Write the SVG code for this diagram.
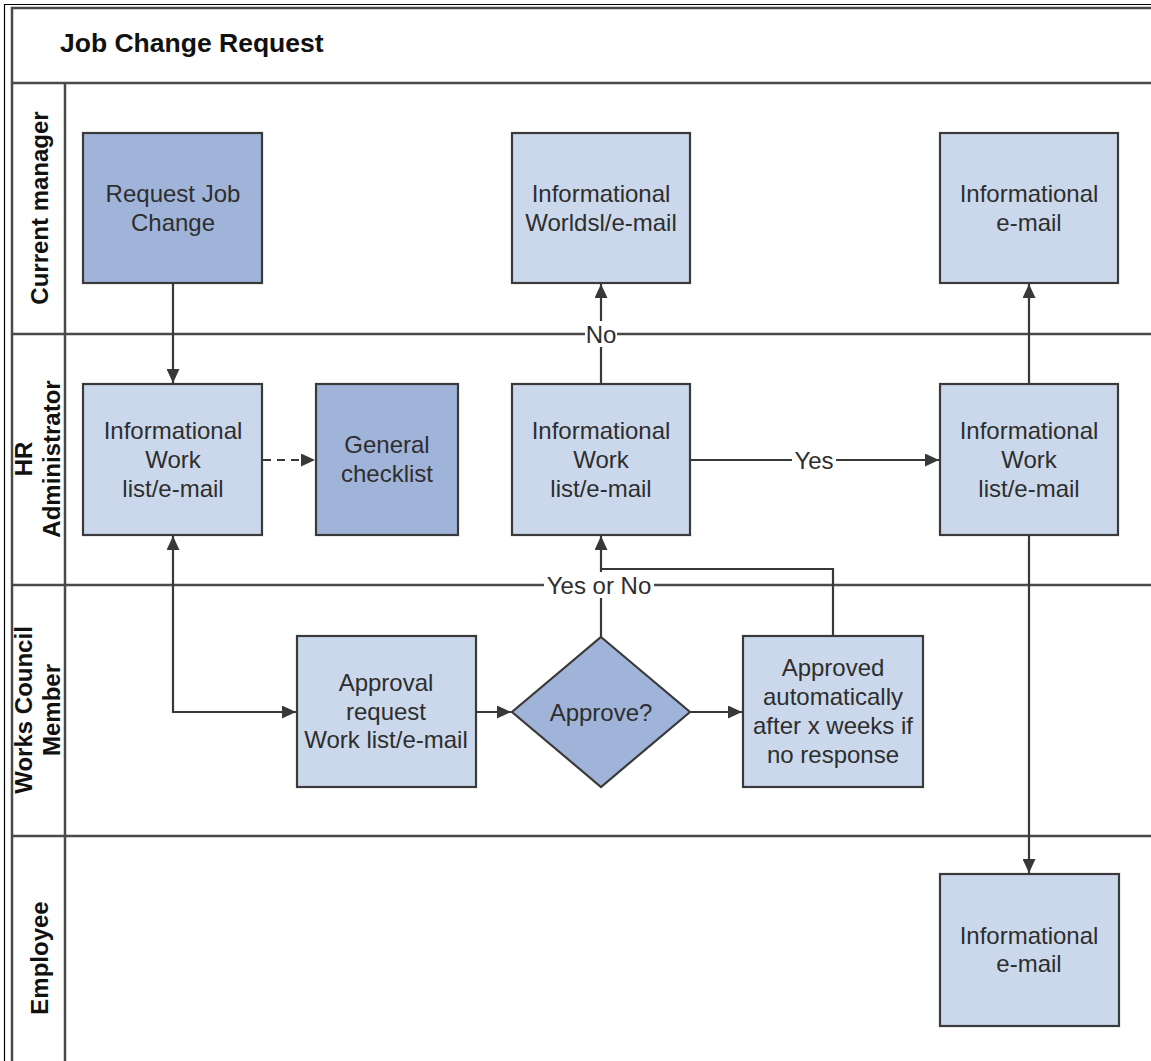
<svg xmlns="http://www.w3.org/2000/svg" width="1151" height="1061" viewBox="0 0 1151 1061">
<style>
.lane{stroke:#4a4a4a;stroke-width:2.5;fill:none}
.frame{stroke:#000;stroke-width:1.2;fill:none}
.light{fill:#cbd8eb;stroke:#3a3a3a;stroke-width:2.2}
.dark{fill:#a0b4da;stroke:#3a3a3a;stroke-width:2.2}
.t{font-family:"Liberation Sans",Arial,sans-serif;font-size:24px;fill:#2e2e2e;text-anchor:middle;dominant-baseline:central}
.lt{font-family:"Liberation Sans",Arial,sans-serif;font-size:24px;font-weight:bold;fill:#111;text-anchor:middle;dominant-baseline:central}
.title{font-family:"Liberation Sans",Arial,sans-serif;font-size:26.5px;font-weight:bold;fill:#111}
.c{stroke:#383838;stroke-width:2.2;fill:none}
.d{stroke:#383838;stroke-width:2.2;fill:none;stroke-dasharray:8 6}
.lbl{font-family:"Liberation Sans",Arial,sans-serif;font-size:24px;fill:#2e2e2e;text-anchor:middle;dominant-baseline:central}
</style>
<defs>
<marker id="ah" viewBox="0 0 14 13" refX="14" refY="6.5" markerWidth="14" markerHeight="13" markerUnits="userSpaceOnUse" orient="auto-start-reverse">
<path d="M0,0 L14,6.5 L0,13 Z" fill="#383838"/>
</marker>
</defs>
<rect width="1151" height="1061" fill="#fff"/>
<g id="pool">
<path class="frame" d="M4.5,1061 V4.5 H1151"/>
<path class="lane" d="M12,1061 V8 H1151"/>
<line class="lane" x1="12" y1="83" x2="1151" y2="83"/>
<line class="lane" x1="12" y1="334" x2="1151" y2="334"/>
<line class="lane" x1="12" y1="585" x2="1151" y2="585"/>
<line class="lane" x1="12" y1="836" x2="1151" y2="836"/>
<line class="lane" x1="65" y1="83" x2="65" y2="1061"/>
<text class="title" x="60" y="52">Job Change Request</text>
<text class="lt" transform="translate(39,208) rotate(-90)">Current manager</text>
<text class="lt" transform="translate(38,459) rotate(-90)"><tspan x="0" y="-15">HR</tspan><tspan x="0" y="13">Administrator</tspan></text>
<text class="lt" transform="translate(38,710) rotate(-90)"><tspan x="0" y="-15">Works Council</tspan><tspan x="0" y="13">Member</tspan></text>
<text class="lt" transform="translate(39,958) rotate(-90)">Employee</text>
</g>
<g id="connectors">
<line class="c" x1="173" y1="284" x2="173" y2="383" marker-end="url(#ah)"/>
<line class="d" x1="263" y1="460" x2="315" y2="460" marker-end="url(#ah)"/>
<polyline class="c" points="173,536 173,712 296,712" marker-start="url(#ah)" marker-end="url(#ah)"/>
<line class="c" x1="476" y1="712" x2="511" y2="712" marker-end="url(#ah)"/>
<line class="c" x1="690" y1="712" x2="742" y2="712" marker-end="url(#ah)"/>
<line class="c" x1="601" y1="637" x2="601" y2="536" marker-end="url(#ah)"/>
<polyline class="c" points="833,636 833,569 601,569"/>
<line class="c" x1="601" y1="384" x2="601" y2="284" marker-end="url(#ah)"/>
<line class="c" x1="691" y1="460" x2="939" y2="460" marker-end="url(#ah)"/>
<line class="c" x1="1029" y1="384" x2="1029" y2="284" marker-end="url(#ah)"/>
<line class="c" x1="1029" y1="536" x2="1029" y2="873" marker-end="url(#ah)"/>
<rect x="585" y="321" width="32" height="26" fill="#fff"/>
<text class="lbl" x="601" y="334">No</text>
<rect x="792" y="447" width="44" height="26" fill="#fff"/>
<text class="lbl" x="814" y="460">Yes</text>
<rect x="544" y="572" width="110" height="26" fill="#fff"/>
<text class="lbl" x="599" y="585">Yes or No</text>
</g>
<g id="request-job-change">
<rect class="dark" x="83" y="133" width="179" height="150"/>
<text class="t" x="173" y="193">Request Job</text>
<text class="t" x="173" y="222">Change</text>
</g>
<g id="cm-info-worklist">
<rect class="light" x="512" y="133" width="178" height="150"/>
<text class="t" x="601" y="193">Informational</text>
<text class="t" x="601" y="222">Worldsl/e-mail</text>
</g>
<g id="cm-info-email">
<rect class="light" x="940" y="133" width="178" height="150"/>
<text class="t" x="1029" y="193">Informational</text>
<text class="t" x="1029" y="222">e-mail</text>
</g>
<g id="hr-info-1">
<rect class="light" x="83" y="384" width="179" height="151"/>
<text class="t" x="173" y="430">Informational</text>
<text class="t" x="173" y="459">Work</text>
<text class="t" x="173" y="488">list/e-mail</text>
</g>
<g id="general-checklist">
<rect class="dark" x="316" y="384" width="142" height="151"/>
<text class="t" x="387" y="444">General</text>
<text class="t" x="387" y="473">checklist</text>
</g>
<g id="hr-info-2">
<rect class="light" x="512" y="384" width="178" height="151"/>
<text class="t" x="601" y="430">Informational</text>
<text class="t" x="601" y="459">Work</text>
<text class="t" x="601" y="488">list/e-mail</text>
</g>
<g id="hr-info-3">
<rect class="light" x="940" y="384" width="178" height="151"/>
<text class="t" x="1029" y="430">Informational</text>
<text class="t" x="1029" y="459">Work</text>
<text class="t" x="1029" y="488">list/e-mail</text>
</g>
<g id="approval-request">
<rect class="light" x="297" y="636" width="179" height="151"/>
<text class="t" x="386" y="682">Approval</text>
<text class="t" x="386" y="711">request</text>
<text class="t" x="386" y="739">Work list/e-mail</text>
</g>
<g id="approve-decision">
<polygon class="dark" points="601,637 690,712 601,787 512,712"/>
<text class="t" x="601" y="712">Approve?</text>
</g>
<g id="approved-automatically">
<rect class="light" x="743" y="636" width="180" height="151"/>
<text class="t" x="833" y="667">Approved</text>
<text class="t" x="833" y="696">automatically</text>
<text class="t" x="833" y="725">after x weeks if</text>
<text class="t" x="833" y="754">no response</text>
</g>
<g id="employee-email">
<rect class="light" x="940" y="874" width="179" height="152"/>
<text class="t" x="1029" y="935">Informational</text>
<text class="t" x="1029" y="963">e-mail</text>
</g>
</svg>
